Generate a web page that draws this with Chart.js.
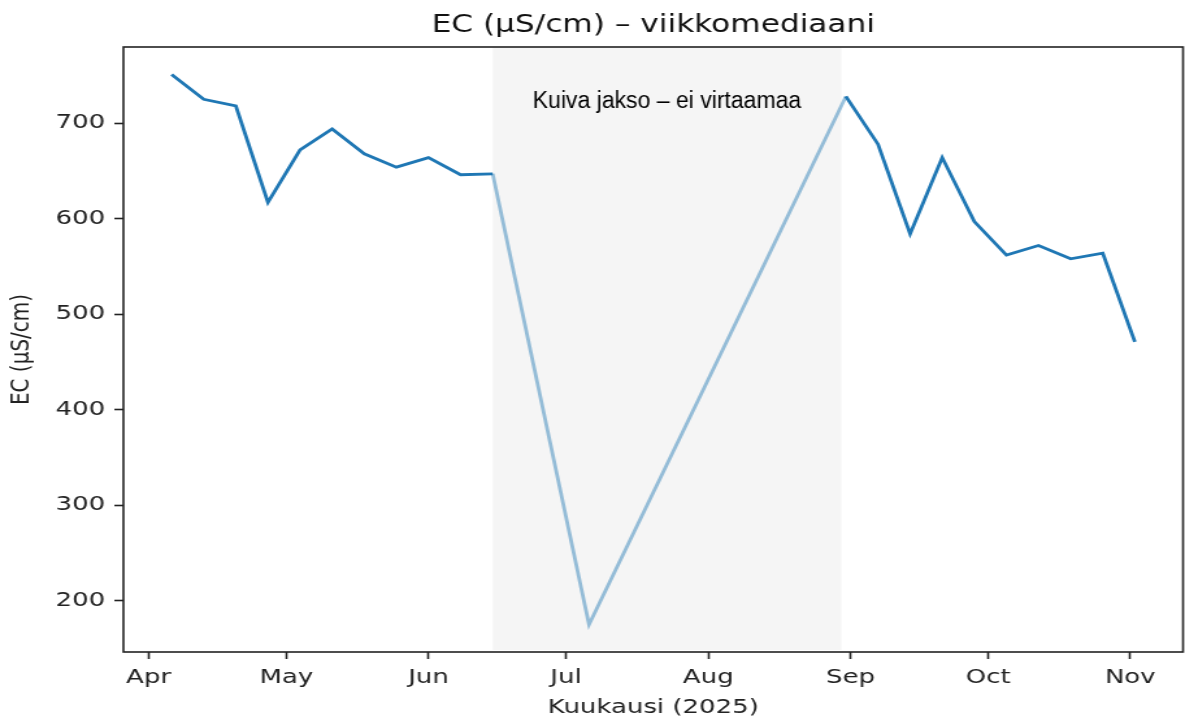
<!DOCTYPE html>
<html>
<head>
<meta charset="utf-8">
<title>EC viikkomediaani</title>
<script src="https://cdn.jsdelivr.net/npm/chart.js@4"></script>
<style>
    html, body { margin: 0; padding: 0; background: #fff; overflow: hidden; }
    /* the source picture is stretched sideways, so the chart is drawn narrow and widened */
    #chart-wrap { width: 912px; height: 719px; transform: scaleX(1.2993); transform-origin: 0 0; }
</style>
</head>
<body>
<div id="chart-wrap"><canvas id="ec-chart" width="912" height="719"></canvas></div>
<script>
const weekDates = [
    "2025-04-06", "2025-04-13", "2025-04-20", "2025-04-27", "2025-05-04",
    "2025-05-11", "2025-05-18", "2025-05-25", "2025-06-01", "2025-06-08",
    "2025-06-15", "2025-07-06", "2025-08-31", "2025-09-07", "2025-09-14",
    "2025-09-21", "2025-09-28", "2025-10-05", "2025-10-12", "2025-10-19",
    "2025-10-26", "2025-11-02"
];
const ecValues = [
    751, 725, 718, 617, 672,
    694, 668, 654, 664, 646,
    647, 175, 728, 678, 584,
    664, 597, 562, 572, 558,
    564, 471
];
const monthStarts = ["2025-04-01", "2025-05-01", "2025-06-01", "2025-07-01", "2025-08-01", "2025-09-01", "2025-10-01", "2025-11-01"];
const monthLabels = ["Apr", "May", "Jun", "Jul", "Aug", "Sep", "Oct", "Nov"];
const yTicks = [200, 300, 400, 500, 600, 700];
const dryStart = "2025-06-15";
const dryEnd = "2025-08-30";
const dryText = "Kuiva jakso \u2013 ei virtaamaa";

const STRETCH = 1185 / 912;
const LINE = "#1f77b4";
const LINE_LIGHT = "rgba(31, 119, 180, 0.45)";
const INK = "#222";

function dayNum(iso) {
    return Date.UTC(+iso.slice(0, 4), +iso.slice(5, 7) - 1, +iso.slice(8, 10)) / 86400000;
}

document.addEventListener("DOMContentLoaded", function () {
    const xs = weekDates.map(dayNum);
    const points = xs.map((x, i) => ({ x: x, y: ecValues[i] }));
    const x0 = dayNum(dryStart);
    const x1 = dayNum(dryEnd);

    // matplotlib style 5 % margins
    const xPad = (Math.max(...xs) - Math.min(...xs)) * 0.05;
    const yPad = (Math.max(...ecValues) - Math.min(...ecValues)) * 0.05;

    const dryPeriod = {
        id: "dryPeriod",
        beforeDatasetsDraw(chart) {
            const { ctx, chartArea, scales } = chart;
            const left = scales.x.getPixelForValue(x0);
            const right = scales.x.getPixelForValue(x1);
            ctx.save();
            ctx.fillStyle = "#f5f5f5";
            ctx.fillRect(left, chartArea.top, right - left, chartArea.bottom - chartArea.top - 2);
            ctx.restore();
        },
        afterDraw(chart) {
            const { ctx, chartArea, scales } = chart;
            const cx = (scales.x.getPixelForValue(x0) + scales.x.getPixelForValue(x1)) / 2;
            ctx.save();
            // frame round the plot
            ctx.strokeStyle = INK;
            ctx.lineWidth = 1.6;
            ctx.strokeRect(chartArea.left, chartArea.top, chartArea.right - chartArea.left, chartArea.bottom - chartArea.top);
            // annotation text is not stretched in the source
            ctx.translate(cx, chartArea.top + 55);
            ctx.scale(1 / STRETCH, 1);
            ctx.fillStyle = "#000";
            ctx.font = "23px 'Liberation Sans'";
            ctx.textAlign = "center";
            ctx.textBaseline = "middle";
            ctx.fillText(dryText, 0, 0);
            ctx.restore();
        }
    };

    const tickFont = { family: "'DejaVu Sans'", size: 20 };

    new Chart(document.getElementById("ec-chart"), {
        type: "line",
        data: {
            datasets: [{
                label: "EC",
                data: points,
                borderColor: LINE,
                borderWidth: 2.8,
                pointRadius: 0,
                tension: 0,
                fill: false,
                segment: {
                    borderColor: (ctx) => (ctx.p0.parsed.x >= x0 && ctx.p0.parsed.x < x1 ? LINE_LIGHT : LINE)
                }
            }]
        },
        options: {
            responsive: false,
            animation: false,
            devicePixelRatio: 1,
            layout: { padding: { left: 0, right: 1.5, top: 0, bottom: 0 } },
            plugins: {
                legend: { display: false },
                tooltip: { enabled: false },
                title: {
                    display: true,
                    text: "EC (\u00b5S/cm) \u2013 viikkomediaani",
                    fullSize: false,
                    color: "#111",
                    font: { family: "'DejaVu Sans'", size: 24, weight: "normal", lineHeight: 1.2 },
                    padding: { top: 11, bottom: 7.2 }
                }
            },
            scales: {
                x: {
                    type: "linear",
                    min: Math.min(...xs) - xPad,
                    max: Math.max(...xs) + xPad,
                    afterBuildTicks: (scale) => {
                        scale.ticks = monthStarts.map((d) => ({ value: dayNum(d) }));
                    },
                    afterFit: (scale) => { scale.height = 67; },
                    border: { display: false },
                    grid: { drawOnChartArea: false, drawTicks: true, tickLength: 7, tickWidth: 1.6, tickColor: INK },
                    ticks: {
                        autoSkip: false,
                        maxRotation: 0,
                        padding: 7,
                        color: INK,
                        font: tickFont,
                        callback: (value, index) => monthLabels[index]
                    },
                    title: {
                        display: true,
                        text: "Kuukausi (2025)",
                        color: INK,
                        font: { family: "'DejaVu Sans'", size: 20, lineHeight: 1.1 },
                        padding: { top: 0, bottom: 0 }
                    }
                },
                y: {
                    min: Math.min(...ecValues) - yPad,
                    max: Math.max(...ecValues) + yPad,
                    afterBuildTicks: (scale) => {
                        scale.ticks = yTicks.map((v) => ({ value: v }));
                    },
                    afterFit: (scale) => { scale.width = 95; },
                    border: { display: false },
                    grid: { drawOnChartArea: false, drawTicks: true, tickLength: 7, tickWidth: 1.6, tickColor: INK },
                    ticks: { padding: 7, color: INK, font: tickFont },
                    title: {
                        display: true,
                        text: "EC (\u00b5S/cm)",
                        color: INK,
                        font: { family: "'DejaVu Sans'", size: 20, lineHeight: 1.2 },
                        padding: { top: 5, bottom: 0 }
                    }
                }
            }
        },
        plugins: [dryPeriod]
    });
});
</script>
</body>
</html>
